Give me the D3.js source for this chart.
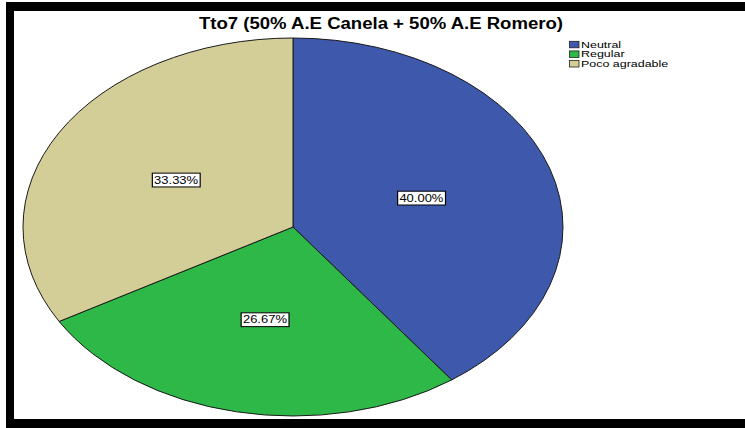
<!DOCTYPE html>
<html>
<head>
<meta charset="utf-8">
<script src="https://cdn.jsdelivr.net/npm/d3@7/dist/d3.min.js"></script>
<style>
  html, body { margin: 0; padding: 0; background: #fff; }
  svg { display: block; }
  text { font-family: "Liberation Sans", Arial, sans-serif; }
</style>
</head>
<body>
<svg id="chart" width="745" height="428"></svg>
<script>
// Chart data
const title = "Tto7 (50% A.E Canela + 50% A.E Romero)";
const categories = ["Neutral", "Regular", "Poco agradable"];
const percentages = [40.00, 26.67, 33.33];
const colors = ["#3e58ac", "#2eb848", "#d3ce97"];

const W = 745, H = 428;
const svg = d3.select("#chart");

// Frame
svg.append("rect").attr("x", 0).attr("y", 0).attr("width", W).attr("height", H).attr("fill", "#fff");
svg.append("rect").attr("x", 7).attr("y", 2).attr("width", W - 7).attr("height", 9).attr("fill", "#000");
svg.append("rect").attr("x", 6).attr("y", 2).attr("width", 8).attr("height", H - 2).attr("fill", "#000");
svg.append("rect").attr("x", 6).attr("y", 419).attr("width", W - 6).attr("height", H - 419).attr("fill", "#000");

// Title (slightly widened type)
svg.append("text")
  .attr("transform", "translate(381,29) scale(1.16,1)")
  .attr("text-anchor", "middle")
  .attr("font-size", 16)
  .attr("font-weight", "bold")
  .attr("fill", "#000")
  .text(title);

// Elliptical pie: a circular pie stretched horizontally
const cx = 293, cy = 227, rx = 270, ry = 189;
const pie = d3.pie().sort(null).value(d => d)(percentages);
const arc = d3.arc().innerRadius(0).outerRadius(ry);

const g = svg.append("g").attr("transform", `translate(${cx},${cy})`);
g.append("g").attr("transform", `scale(${rx / ry},1)`)
  .selectAll("path")
  .data(pie)
  .join("path")
  .attr("d", arc)
  .attr("fill", (d, i) => colors[i])
  .attr("stroke", "#1a1a1a")
  .attr("stroke-width", 1)
  .attr("vector-effect", "non-scaling-stroke");

// Value labels in white boxes
const labelArc = d3.arc().innerRadius(0).outerRadius(ry);
pie.forEach((d, i) => {
  const [px, py] = labelArc.centroid(d);
  const lx = px * rx / ry, ly = py;
  const lg = g.append("g").attr("transform", `translate(${lx},${ly}) scale(1.18,1)`);
  const t = lg.append("text")
    .attr("text-anchor", "middle")
    .attr("dy", "0.36em")
    .attr("font-size", 11)
    .attr("fill", "#000")
    .text(d3.format(".2f")(d.data) + "%");
  const bb = t.node().getBBox();
  lg.insert("rect", "text")
    .attr("x", bb.x - 1.5).attr("y", bb.y - 0.5)
    .attr("width", bb.width + 3).attr("height", bb.height + 1)
    .attr("fill", "#fff").attr("stroke", "#000").attr("stroke-width", 1);
});

// Legend
const legend = svg.append("g").attr("transform", "translate(569,40.8)");
categories.forEach((c, i) => {
  const row = legend.append("g").attr("transform", `translate(0,${i * 9.6})`);
  row.append("rect").attr("x", 0.5).attr("y", 0.5).attr("width", 9.5).attr("height", 6.5)
    .attr("fill", colors[i]).attr("stroke", "#222").attr("stroke-width", 0.8);
  row.append("text")
    .attr("transform", `translate(12,7) scale(1.5,1)`)
    .attr("font-size", 8.3)
    .attr("fill", "#000")
    .text(c);
});
</script>
</body>
</html>
